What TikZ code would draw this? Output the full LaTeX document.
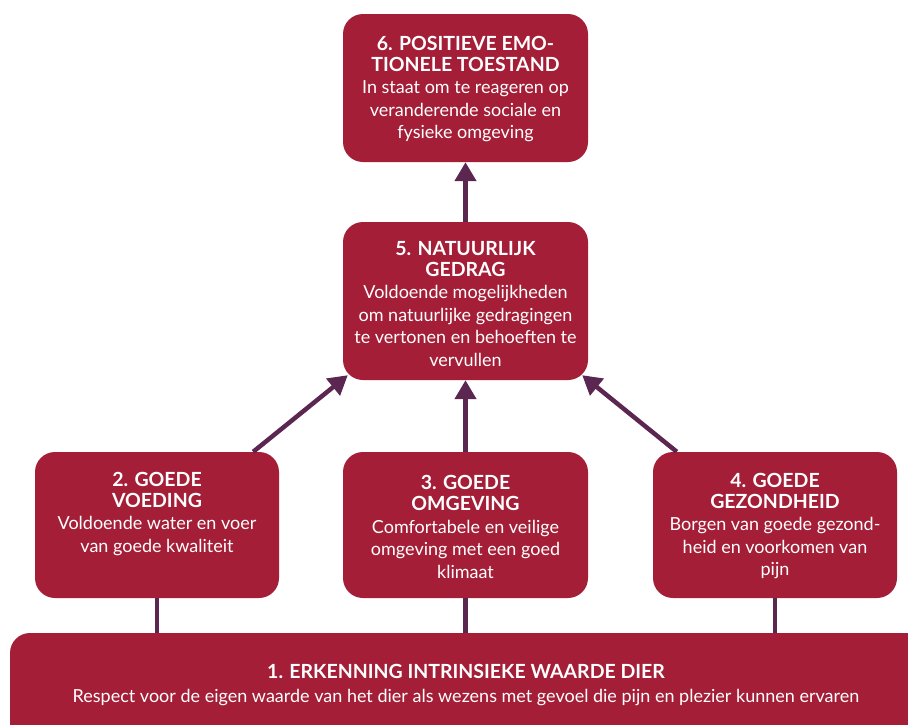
\documentclass[tikz,border=0pt]{standalone}
\usepackage{fontspec}
\setmainfont{Lato}
\usetikzlibrary{arrows.meta}
\definecolor{boxred}{HTML}{A41E37}
\definecolor{linkpurple}{HTML}{5B2650}

\begin{document}
\begin{tikzpicture}[x=1pt,y=-1pt,
  box/.style={fill=boxred, rounded corners=20pt, inner sep=0pt},
  txt/.style={text=white, align=center, font=\fontsize{18}{22.5}\selectfont},
  link/.style={draw=linkpurple, line width=4.5pt, -{Triangle[width=21pt,length=19pt]}},
  tie/.style={draw=linkpurple, line width=4.5pt}]
\useasboundingbox (0,0) rectangle (908,724);
\clip (0,0) rectangle (908,724);
% boxes
\node[box, minimum width=245pt, minimum height=148pt] (b6) at (465.5,88) {};
\node[box, minimum width=245pt, minimum height=158pt] (b5) at (465.5,301) {};
\node[box, minimum width=244pt, minimum height=146pt] (b2) at (157,525) {};
\node[box, minimum width=245pt, minimum height=146pt] (b3) at (465.5,525) {};
\node[box, minimum width=244pt, minimum height=146pt] (b4) at (775,525) {};
\node[box, minimum width=920pt, minimum height=112pt] (b1) at (470,689) {};
% texts
\node[txt] (t6) at (465.5,89) {\textbf{\fontsize{19.5}{21}\selectfont 6. POSITIEVE EMO-}\\[-1.5pt]
  \textbf{\fontsize{19.5}{21}\selectfont TIONELE TOESTAND}\\
  In staat om te reageren op\\ veranderende sociale en\\ fysieke omgeving};
\node[txt] (t5) at (465.5,304) {\textbf{\fontsize{19.5}{21}\selectfont 5. NATUURLIJK}\\[-1.5pt]
  \textbf{\fontsize{19.5}{21}\selectfont GEDRAG}\\
  Voldoende mogelijkheden\\ om natuurlijke gedragingen\\ te vertonen en behoeften te\\ vervullen};
\node[txt] (t2) at (157,514) {\textbf{\fontsize{19.5}{21}\selectfont 2. GOEDE}\\[-1.5pt]
  \textbf{\fontsize{19.5}{21}\selectfont VOEDING}\\
  Voldoende water en voer\\ van goede kwaliteit};
\node[txt] (t3) at (465.5,527) {\textbf{\fontsize{19.5}{21}\selectfont 3. GOEDE}\\[-1.5pt]
  \textbf{\fontsize{19.5}{21}\selectfont OMGEVING}\\
  Comfortabele en veilige\\ omgeving met een goed\\ klimaat};
\node[txt] (t4) at (775,526) {\textbf{\fontsize{19.5}{21}\selectfont 4. GOEDE}\\[-1.5pt]
  \textbf{\fontsize{19.5}{21}\selectfont GEZONDHEID}\\
  Borgen van goede gezond-\\ heid en voorkomen van\\ pijn};
\node[txt] (t1) at (466,685) {\textbf{\fontsize{19.5}{21}\selectfont 1. ERKENNING INTRINSIEKE WAARDE DIER}\\[1pt]
  Respect voor de eigen waarde van het dier als wezens met gevoel die pijn en plezier kunnen ervaren};
% connectors
\draw[link] (b5) -- (b6);
\draw[link] (b3) -- (b5);
\draw[link] ([xshift=-26pt]b2.north east) -- ([xshift=5pt,yshift=5pt]b5.south west);
\draw[link] ([xshift=24pt]b4.north west) -- ([xshift=-6pt,yshift=5pt]b5.south east);
\draw[tie] (b2.south) -- (b2.south |- b1.north);
\draw[tie] (b3.south) -- (b3.south |- b1.north);
\draw[tie] (b4.south) -- (b4.south |- b1.north);
\end{tikzpicture}
\end{document}
